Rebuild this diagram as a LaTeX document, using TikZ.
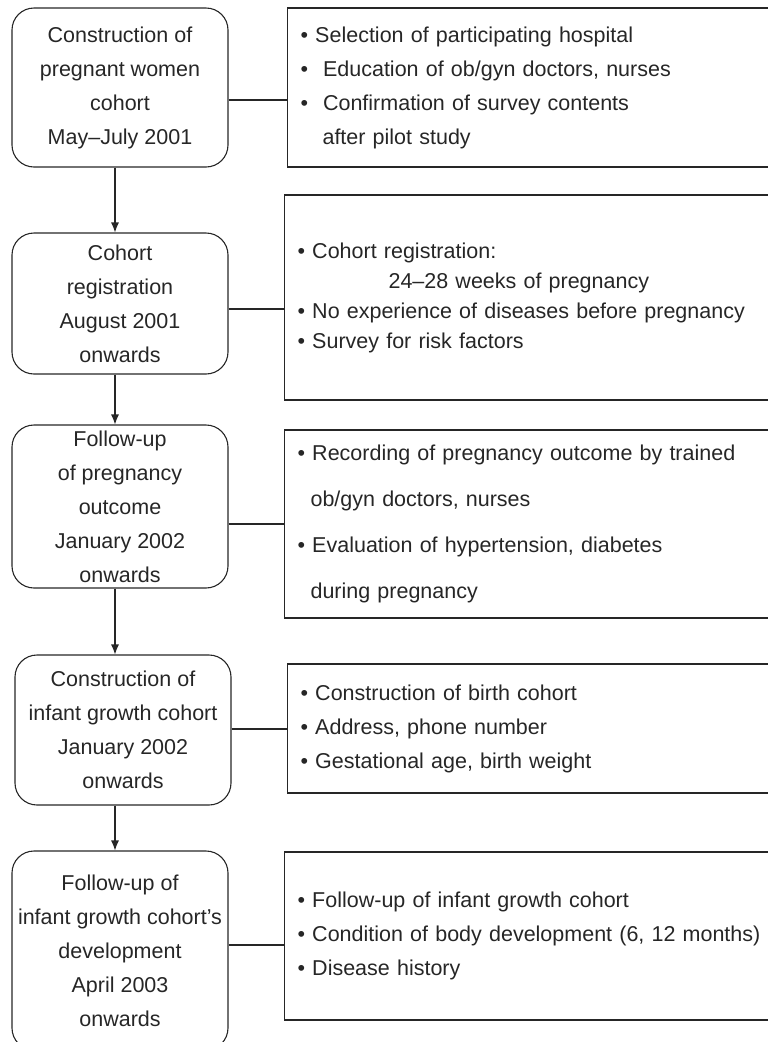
\documentclass[tikz,border=0pt]{standalone}
\usepackage{fontspec}
\setmainfont{Liberation Sans}
\usetikzlibrary{arrows.meta}

\begin{document}
\begin{tikzpicture}[x=1pt, y=-1pt, line width=1.1pt, color=black!85,
    every node/.style={font=\fontsize{21.5}{34}\selectfont},
    stage/.style={draw, rounded corners=22pt, align=center, minimum width=216pt, inner sep=0pt},
    detail/.style={draw, anchor=west, align=left, text width=480pt, inner xsep=13pt, inner ysep=0pt},
    arr/.style={-{Latex[length=10pt,width=8pt]}}]
    \useasboundingbox (0,0) rectangle (768,1042);

    \node[stage, minimum height=159pt] (s1) at (120, 87.5) {Construction of\\pregnant women\\cohort\\May–July 2001};
    \node[stage, minimum height=141pt] (s2) at (120, 303.5) {Cohort\\registration\\August 2001\\onwards};
    \node[stage, minimum height=163pt] (s3) at (120, 506.5) {Follow-up\\of pregnancy\\outcome\\January 2002\\onwards};
    \node[stage, minimum height=150pt] (s4) at (123, 730) {Construction of\\infant growth cohort\\January 2002\\onwards};
    \node[stage, minimum height=199pt] (s5) at (120, 950.5) {Follow-up of\\infant growth cohort’s\\development\\April 2003\\onwards};

    \node[detail, minimum height=159pt] (d1) at (287, 87.5) {\textbullet\ Selection of participating hospital\\
        \textbullet\hspace{15pt}Education of ob/gyn doctors, nurses\\
        \textbullet\hspace{15pt}Confirmation of survey contents\\
        \hspace*{22pt}after pilot study};
    \node[detail, minimum height=205pt, font=\fontsize{21.5}{30}\selectfont] (d2) at (284, 297.5) {\textbullet\ Cohort registration:\\
        \hspace*{91pt}24–28 weeks of pregnancy\\
        \textbullet\ No experience of diseases before pregnancy\\
        \textbullet\ Survey for risk factors};
    \node[detail, minimum height=188pt, font=\fontsize{21.5}{46}\selectfont] (d3) at (284, 524) {\textbullet\ Recording of pregnancy outcome by trained\\
        \hspace*{13pt}ob/gyn doctors, nurses\\
        \textbullet\ Evaluation of hypertension, diabetes\\
        \hspace*{13pt}during pregnancy};
    \node[detail, minimum height=129pt] (d4) at (287, 728.5) {\textbullet\ Construction of birth cohort\\
        \textbullet\ Address, phone number\\
        \textbullet\ Gestational age, birth weight};
    \node[detail, minimum height=168pt] (d5) at (284, 936) {\textbullet\ Follow-up of infant growth cohort\\
        \textbullet\ Condition of body development (6, 12 months)\\
        \textbullet\ Disease history};

    % las lineas horizontales no salen del centro de las cajas
    \coordinate (j1) at (0, 100);
    \coordinate (j2) at (0, 309);
    \coordinate (j3) at (0, 524);
    \coordinate (j4) at (0, 729);
    \coordinate (j5) at (0, 945);
    \draw (s1.east |- j1) -- (d1.west |- j1);
    \draw (s2.east |- j2) -- (d2.west |- j2);
    \draw (s3.east |- j3) -- (d3.west |- j3);
    \draw (s4.east |- j4) -- (d4.west |- j4);
    \draw (s5.east |- j5) -- (d5.west |- j5);

    \coordinate (ax) at (115, 0);
    \draw[arr] (s1.south -| ax) -- (s2.north -| ax);
    \draw[arr] (s2.south -| ax) -- (s3.north -| ax);
    \draw[arr] (s3.south -| ax) -- (s4.north -| ax);
    \draw[arr] (s4.south -| ax) -- (s5.north -| ax);
\end{tikzpicture}
\end{document}
